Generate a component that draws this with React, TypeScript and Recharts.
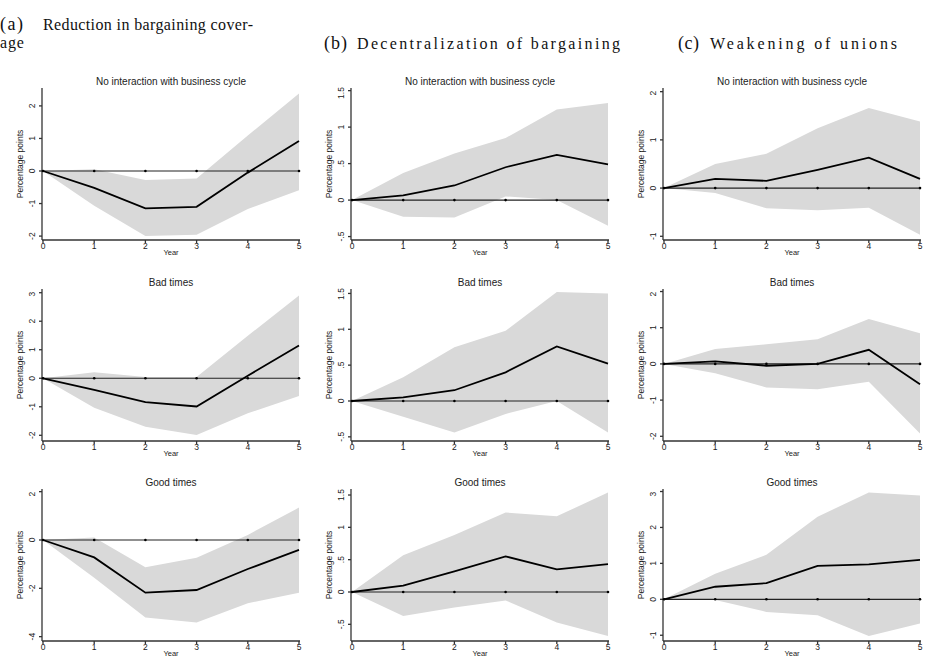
import React from "react";
import { ComposedChart, Area, Line, XAxis, YAxis } from "recharts";

const YEARS = [0, 1, 2, 3, 4, 5];

// (a) reduction in bargaining coverage
const A_NONE_EST = [0, -0.52, -1.15, -1.1, -0.05, 0.92];
const A_NONE_LO = [0, -1.07, -2.0, -1.96, -1.17, -0.59];
const A_NONE_HI = [0, 0.05, -0.28, -0.23, 1.09, 2.38];
const A_BAD_EST = [0, -0.41, -0.84, -0.99, 0.09, 1.15];
const A_BAD_LO = [0, -1.03, -1.7, -1.99, -1.23, -0.62];
const A_BAD_HI = [0, 0.21, 0.04, 0.04, 1.49, 2.9];
const A_GOOD_EST = [0, -0.72, -2.18, -2.07, -1.2, -0.41];
const A_GOOD_LO = [0, -1.56, -3.21, -3.41, -2.62, -2.18];
const A_GOOD_HI = [0, 0.1, -1.13, -0.73, 0.21, 1.34];

// (b) decentralization of bargaining
const B_NONE_EST = [0, 0.064, 0.2, 0.45, 0.62, 0.49];
const B_NONE_LO = [0, -0.23, -0.24, 0.05, 0.0, -0.35];
const B_NONE_HI = [0, 0.37, 0.64, 0.85, 1.24, 1.33];
const B_BAD_EST = [0, 0.05, 0.15, 0.4, 0.76, 0.52];
const B_BAD_LO = [0, -0.22, -0.44, -0.18, 0.0, -0.44];
const B_BAD_HI = [0, 0.33, 0.75, 0.98, 1.52, 1.5];
const B_GOOD_EST = [0, 0.1, 0.32, 0.55, 0.35, 0.43];
const B_GOOD_LO = [0, -0.37, -0.24, -0.13, -0.47, -0.68];
const B_GOOD_HI = [0, 0.57, 0.88, 1.23, 1.17, 1.54];

// (c) weakening of unions
const C_NONE_EST = [0, 0.19, 0.15, 0.38, 0.63, 0.19];
const C_NONE_LO = [0, -0.1, -0.42, -0.46, -0.41, -0.97];
const C_NONE_HI = [0, 0.5, 0.71, 1.24, 1.66, 1.38];
const C_BAD_EST = [0, 0.07, -0.05, 0.0, 0.39, -0.56];
const C_BAD_LO = [0, -0.26, -0.65, -0.7, -0.49, -1.92];
const C_BAD_HI = [0, 0.41, 0.54, 0.68, 1.24, 0.85];
const C_GOOD_EST = [0, 0.35, 0.45, 0.93, 0.97, 1.1];
const C_GOOD_LO = [0, -0.02, -0.35, -0.44, -1.02, -0.67];
const C_GOOD_HI = [0, 0.71, 1.24, 2.3, 2.97, 2.89];

const ROW_TITLES = ["No interaction with business cycle", "Bad times", "Good times"];

const TICKS_A1 = [-2, -1, 0, 1, 2];
const TICKS_A2 = [-2, -1, 0, 1, 2, 3];
const TICKS_A3 = [-4, -2, 0, 2];
const TICKS_B = [-0.5, 0, 0.5, 1, 1.5];
const TICKS_C1 = [-1, 0, 1, 2];
const TICKS_C2 = [-2, -1, 0, 1, 2];
const TICKS_C3 = [-1, 0, 1, 2, 3];

const SANS = "'Liberation Sans', Arial, sans-serif";
const SERIF = "'Liberation Serif', 'Times New Roman', serif";
const BAND = "#d9d9d9";
const AXIS = "#333";

const COL_X = [42, 351, 663];
const ROW_Y = [88, 289, 489];
const PLOT_W = 258;
const PLOT_H = 152;

const fmt = (v: number) => String(v).replace(/^(-?)0\./, "$1.");

function VTick(props: any) {
  const { x, y, payload } = props;
  return (
    <text
      x={x}
      y={y}
      transform={`rotate(-90 ${x} ${y})`}
      textAnchor="middle"
      fontSize={8.5}
      fill="#222"
      fontFamily={SANS}
    >
      {fmt(payload.value)}
    </text>
  );
}

function Panel({
  left,
  top,
  title,
  est,
  lo,
  hi,
  domain,
  ticks,
}: {
  left: number;
  top: number;
  title: string;
  est: number[];
  lo: number[];
  hi: number[];
  domain: [number, number];
  ticks: number[];
}) {
  const data = YEARS.map((yr, i) => ({
    year: yr,
    est: est[i],
    band: [lo[i], hi[i]],
    zero: 0,
  }));
  return (
    <>
      <div
        style={{
          position: "absolute",
          left: left,
          width: PLOT_W,
          top: top - 12,
          textAlign: "center",
          fontFamily: SANS,
          fontSize: 10,
          lineHeight: "12px",
          color: "#222",
          whiteSpace: "nowrap",
        }}
      >
        {title}
      </div>
      <div
        style={{
          position: "absolute",
          left: left - 22,
          top: top + PLOT_H / 2,
          transform: "translate(-50%, -50%) rotate(-90deg)",
          fontFamily: SANS,
          fontSize: 8.5,
          color: "#222",
          whiteSpace: "nowrap",
        }}
      >
        Percentage points
      </div>
      <div style={{ position: "absolute", left: left - 42, top: top - 4 }}>
        <ComposedChart
          width={42 + PLOT_W + 3}
          height={4 + PLOT_H + 20}
          data={data}
          margin={{ top: 4, right: 3, bottom: 0, left: 0 }}
        >
          <XAxis
            dataKey="year"
            type="number"
            domain={[0, 5]}
            ticks={YEARS}
            padding={{ left: 1, right: 1 }}
            height={20}
            tickSize={3}
            tickMargin={0}
            stroke={AXIS}
            strokeWidth={1.3}
            tick={{ fontSize: 8.5, fill: "#222", fontFamily: SANS }}
            label={{ value: "Year", position: "insideBottom", offset: 5, fontSize: 7.5, fill: "#222", fontFamily: SANS }}
          />
          <YAxis
            type="number"
            domain={domain}
            allowDataOverflow
            ticks={ticks}
            width={42}
            tickSize={3}
            tickMargin={4}
            stroke={AXIS}
            strokeWidth={1.3}
            tick={<VTick />}
          />
          <Area
            dataKey="band"
            type="linear"
            stroke="none"
            fill={BAND}
            fillOpacity={1}
            isAnimationActive={false}
          />
          <Line
            dataKey="zero"
            type="linear"
            stroke="#222"
            strokeWidth={1.2}
            dot={{ r: 1.3, fill: "#000", stroke: "none" }}
            isAnimationActive={false}
          />
          <Line
            dataKey="est"
            type="linear"
            stroke="#000"
            strokeWidth={1.8}
            dot={false}
            isAnimationActive={false}
          />
        </ComposedChart>
      </div>
    </>
  );
}

const PANELS = [
  { col: 0, row: 0, est: A_NONE_EST, lo: A_NONE_LO, hi: A_NONE_HI, domain: [-2.12, 2.55], ticks: TICKS_A1 },
  { col: 1, row: 0, est: B_NONE_EST, lo: B_NONE_LO, hi: B_NONE_HI, domain: [-0.547, 1.536], ticks: TICKS_B },
  { col: 2, row: 0, est: C_NONE_EST, lo: C_NONE_LO, hi: C_NONE_HI, domain: [-1.077, 2.076], ticks: TICKS_C1 },
  { col: 0, row: 1, est: A_BAD_EST, lo: A_BAD_LO, hi: A_BAD_HI, domain: [-2.2, 3.13], ticks: TICKS_A2 },
  { col: 1, row: 1, est: B_BAD_EST, lo: B_BAD_LO, hi: B_BAD_HI, domain: [-0.558, 1.562], ticks: TICKS_B },
  { col: 2, row: 1, est: C_BAD_EST, lo: C_BAD_LO, hi: C_BAD_HI, domain: [-2.13, 2.07], ticks: TICKS_C2 },
  { col: 0, row: 2, est: A_GOOD_EST, lo: A_GOOD_LO, hi: A_GOOD_HI, domain: [-4.18, 2.11], ticks: TICKS_A3 },
  { col: 1, row: 2, est: B_GOOD_EST, lo: B_GOOD_LO, hi: B_GOOD_HI, domain: [-0.758, 1.593], ticks: TICKS_B },
  { col: 2, row: 2, est: C_GOOD_EST, lo: C_GOOD_LO, hi: C_GOOD_HI, domain: [-1.16, 3.07], ticks: TICKS_C3 },
];

export default function App() {
  return (
    <div
      style={{
        position: "absolute",
        left: 0,
        top: 0,
        width: 925,
        height: 658,
        overflow: "hidden",
        background: "#fff",
      }}
    >
      <svg width={925} height={60} style={{ position: "absolute", left: 0, top: 0 }} fontFamily={SERIF} fill="#111">
        <text x={0} y={30} fontSize={18} letterSpacing={1.5}>(a)</text>
        <text x={43} y={30} fontSize={16} textLength={210} lengthAdjust="spacing">Reduction in bargaining cover-</text>
        <text x={0} y={48} fontSize={16} letterSpacing={0.8}>age</text>
        <text x={324} y={49} fontSize={18} letterSpacing={1}>(b)</text>
        <text x={357} y={49} fontSize={16} textLength={263} lengthAdjust="spacing">Decentralization of bargaining</text>
        <text x={678} y={49} fontSize={18} letterSpacing={0.5}>(c)</text>
        <text x={710} y={49} fontSize={16} textLength={187} lengthAdjust="spacing">Weakening of unions</text>
      </svg>
      {PANELS.map((p, i) => (
        <Panel
          key={i}
          left={COL_X[p.col]}
          top={ROW_Y[p.row]}
          title={ROW_TITLES[p.row]}
          est={p.est}
          lo={p.lo}
          hi={p.hi}
          domain={p.domain as [number, number]}
          ticks={p.ticks}
        />
      ))}
    </div>
  );
}
